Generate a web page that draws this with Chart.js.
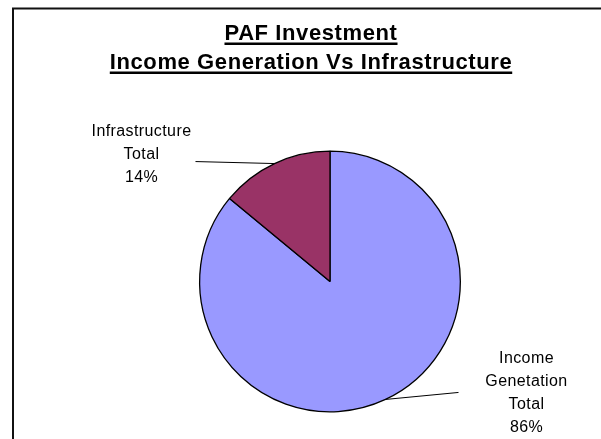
<!DOCTYPE html>
<html>
<head>
<meta charset="utf-8">
<script src="https://cdn.jsdelivr.net/npm/chart.js@4/dist/chart.umd.min.js"></script>
<style>
  html, body { margin: 0; padding: 0; background: #fff; }
  #wrap { width: 601px; height: 439px; position: relative; }
</style>
</head>
<body>
<div id="wrap"><canvas id="c" width="601" height="439"></canvas></div>
<script>
// ---- data ----
const categories = ["Income Genetation Total", "Infrastructure Total"];
const labelLines = [["Income", "Genetation", "Total"], ["Infrastructure", "Total"]];
const values = [86, 14];
const titleLines = ["PAF Investment", "Income Generation Vs Infrastructure"];
const sliceColors = ["#9999FF", "#993366"];

// ---- styles for the external labels (relative to the slice's outer edge) ----
const labelStyle = [
  { endDx: 73, endDy: -7, textDx: 68, textDy: 1 },
  { endDx: -79, endDy: -2, textDx: -54, textDy: -7 }
];

const FONT = "'Liberation Sans', Arial, sans-serif";

const framePlugin = {
  id: 'frame',
  beforeDraw(chart) {
    const ctx = chart.ctx;
    ctx.save();
    ctx.strokeStyle = '#111';
    ctx.lineWidth = 2;
    ctx.beginPath();
    ctx.moveTo(13, 439);
    ctx.lineTo(13, 8.5);
    ctx.lineTo(601, 8.5);
    ctx.stroke();
    // title
    ctx.fillStyle = '#000';
    ctx.font = "bold 22px " + FONT;
    ctx.letterSpacing = '0.6px';
    ctx.textAlign = 'center';
    ctx.textBaseline = 'alphabetic';
    const cx = 311;
    const baselines = [40, 69];
    titleLines.forEach((t, i) => {
      ctx.fillText(t, cx, baselines[i]);
      const w = ctx.measureText(t).width;
      ctx.fillRect(cx - w / 2, baselines[i] + 2.5, w, 2.5);
    });
    ctx.restore();
  }
};

const labelPlugin = {
  id: 'outLabels',
  afterDatasetsDraw(chart) {
    const ctx = chart.ctx;
    const meta = chart.getDatasetMeta(0);
    const total = values.reduce((a, b) => a + b, 0);
    ctx.save();
    meta.data.forEach((arc, i) => {
      const p = arc.getProps(['x', 'y', 'startAngle', 'endAngle', 'outerRadius'], true);
      const mid = (p.startAngle + p.endAngle) / 2;
      const ex = p.x + Math.cos(mid) * p.outerRadius;
      const ey = p.y + Math.sin(mid) * p.outerRadius;
      const s = labelStyle[i];
      const lx = ex + s.endDx, ly = ey + s.endDy;
      ctx.strokeStyle = '#000';
      ctx.lineWidth = 1;
      ctx.beginPath();
      ctx.moveTo(ex, ey);
      ctx.lineTo(lx, ly);
      ctx.stroke();
      const lines = labelLines[i].concat([Math.round(values[i] / total * 100) + '%']);
      const lh = 23;
      const tx = lx + s.textDx;
      const ty0 = ly + s.textDy - (lines.length - 1) * lh / 2;
      ctx.fillStyle = '#000';
      ctx.font = "16px " + FONT;
      ctx.letterSpacing = '0.4px';
      ctx.textAlign = 'center';
      ctx.textBaseline = 'middle';
      lines.forEach((t, k) => ctx.fillText(t, tx, ty0 + k * lh));
    });
    ctx.restore();
  }
};

new Chart(document.getElementById('c'), {
  type: 'pie',
  data: {
    labels: categories,
    datasets: [{
      data: values,
      backgroundColor: sliceColors,
      borderColor: '#000',
      borderWidth: 1.3,
      borderAlign: 'center'
    }]
  },
  options: {
    responsive: false,
    animation: false,
    devicePixelRatio: 1,
    layout: { padding: { top: 150, bottom: 26, left: 199, right: 140 } },
    plugins: {
      legend: { display: false },
      title: { display: false },
      tooltip: { enabled: false }
    }
  },
  plugins: [framePlugin, labelPlugin]
});
</script>
</body>
</html>
